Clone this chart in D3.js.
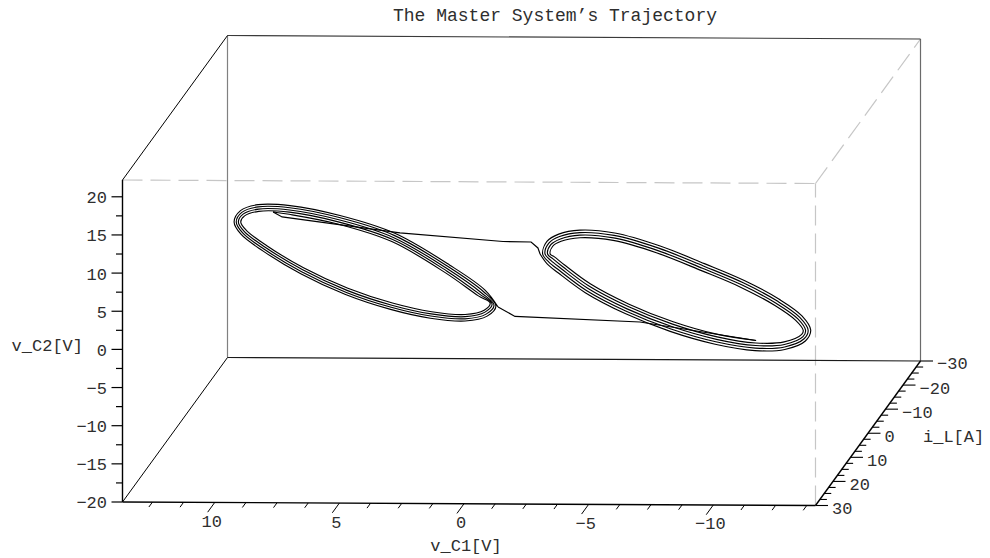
<!DOCTYPE html>
<html>
<head>
<meta charset="utf-8">
<script src="https://cdn.jsdelivr.net/npm/d3@7"></script>
<style>
  html, body { margin: 0; padding: 0; background: #fff; }
  svg { display: block; }
  text { font-family: "Liberation Mono", "Courier New", monospace; fill: #2e2e2e; }
</style>
</head>
<body>
<svg id="chart" width="990" height="558"></svg>
<script>
// ---- chart text ----
const chartTitle = "The Master System\u2019s Trajectory";
const labelVC1 = "v_C1[V]";
const labelIL = "i_L[A]";
const labelVC2 = "v_C2[V]";

// ---- axis extents and ticks ----
const vC1Domain = [13.7, -14.1];
const iLDomain = [30, -30];
const vC2Domain = [-20, 22.2];
const vC1Ticks = [10, 5, 0, -5, -10];
const iLTicks = [-30, -20, -10, 0, 10, 20, 30];
const vC2Ticks = [-20, -15, -10, -5, 0, 5, 10, 15, 20];
const vC1MinorStep = 1.25;
const iLMinorStep = 2.5;
const vC2MinorStep = 2.5;

// ---- trajectory, as [v_C1, i_L, v_C2] samples ----
// spiral around the positive equilibrium
const leftScroll = [
  [11.36,-22.72,1.41],[10.61,-21.22,1.59],[8.35,-16.70,1.79],[5.82,-11.64,1.12],[3.31,-6.62,-1.36],
  [1.78,-3.56,-3.38],[1.23,-2.46,-3.96],[1.51,-3.02,-5.08],[2.40,-4.80,-6.22],[3.96,-7.92,-6.87],
  [5.79,-11.58,-6.92],[7.87,-15.74,-6.33],[9.94,-19.88,-4.99],[11.67,-23.34,-3.18],[12.61,-25.22,-1.80],
  [12.87,-25.74,-0.88],[12.69,-25.38,0.03],[12.03,-24.06,1.06],[10.60,-21.20,1.88],[8.32,-16.64,2.08],
  [5.78,-11.56,1.41],[3.26,-6.52,-1.07],[1.71,-3.42,-3.14],[1.14,-2.28,-4.03],[1.47,-2.94,-5.31],
  [2.40,-4.80,-6.51],[3.98,-7.96,-7.17],[5.82,-11.64,-7.22],[7.91,-15.82,-6.63],[9.98,-19.96,-5.27],
  [11.73,-23.46,-3.45],[12.70,-25.40,-2.03],[12.98,-25.96,-0.94],[12.76,-25.52,0.22],[12.04,-24.08,1.35],
  [10.59,-21.18,2.17],[8.29,-16.58,2.38],[5.75,-11.50,1.71],[3.21,-6.42,-0.79],[1.63,-3.26,-2.90],
  [1.05,-2.10,-4.10],[1.42,-2.84,-5.54],[2.40,-4.80,-6.79],[4.00,-8.00,-7.46],[5.85,-11.70,-7.51],
  [7.94,-15.88,-6.92],[10.03,-20.06,-5.56],[11.79,-23.58,-3.73],[12.78,-25.56,-2.26],[13.08,-26.16,-1.01],
  [12.82,-25.64,0.41],[12.05,-24.10,1.63],[10.58,-21.16,2.47],[8.27,-16.54,2.68],[5.71,-11.42,2.00],
  [3.16,-6.32,-0.50],[1.55,-3.10,-2.66],[0.96,-1.92,-4.17],[1.37,-2.74,-5.77],[2.40,-4.80,-7.08],
  [4.02,-8.04,-7.76],[5.88,-11.76,-7.81],[7.98,-15.96,-7.22],[10.07,-20.14,-5.85],[11.84,-23.68,-4.00],
  [12.86,-25.72,-2.48],[13.18,-26.36,-1.08],[12.88,-25.76,0.60],[12.06,-24.12,1.91],[10.57,-21.14,2.76],
  [8.24,-16.48,2.97],[5.68,-11.36,2.30],[3.11,-6.22,-0.22],[1.47,-2.94,-2.42],[0.86,-1.72,-4.24]
];
// jump across to the negative scroll
const crossingOut = [
  [0.86,-1.72,-4.24],[0.07,-0.14,-4.97],[-5.76,11.52,-1.92],[-11.18,22.36,-0.83]
];
// spiral around the negative equilibrium
const rightScroll = [
  [-11.18,22.36,-0.83],[-9.39,18.78,-1.20],[-7.31,14.62,-0.89],[-5.25,10.50,0.08],[-3.44,6.88,1.58],
  [-2.23,4.46,3.29],[-1.77,3.54,4.03],[-1.57,3.14,4.28],[-1.69,3.38,5.37],[-2.08,4.16,6.27],
  [-2.96,5.92,7.31],[-4.51,9.02,7.96],[-6.56,13.12,7.64],[-8.63,17.26,6.67],[-10.48,20.96,5.67],
  [-12.06,24.12,4.32],[-13.03,26.06,3.00],[-13.38,26.76,1.91],[-13.31,26.62,1.34],[-12.49,24.98,-0.17],
  [-11.17,22.34,-1.17],[-9.36,18.72,-1.54],[-7.28,14.56,-1.22],[-5.21,10.42,-0.25],[-3.38,6.76,1.25],
  [-2.16,4.32,2.98],[-1.69,3.38,3.74],[-1.45,2.90,4.20],[-1.60,3.20,5.52],[-2.05,4.10,6.56],
  [-2.96,5.92,7.65],[-4.53,9.06,8.30],[-6.60,13.20,7.98],[-8.68,17.36,7.01],[-10.53,21.06,6.01],
  [-12.13,24.26,4.63],[-13.13,26.26,3.26],[-13.49,26.98,2.00],[-13.37,26.74,1.09],[-12.50,25.00,-0.50],
  [-11.16,22.32,-1.51],[-9.33,18.66,-1.88],[-7.24,14.48,-1.56],[-5.16,10.32,-0.59],[-3.32,6.64,0.92],
  [-2.09,4.18,2.68],[-1.60,3.20,3.46],[-1.33,2.66,4.13],[-1.51,3.02,5.67],[-2.01,4.02,6.85],
  [-2.96,5.92,7.98],[-4.55,9.10,8.64],[-6.63,13.26,8.32],[-8.72,17.44,7.34],[-10.58,21.16,6.34],
  [-12.19,24.38,4.95],[-13.22,26.44,3.52],[-13.61,27.22,2.09],[-13.42,26.84,0.84],[-12.51,25.02,-0.82],
  [-11.15,22.30,-1.85],[-9.30,18.60,-2.22],[-7.21,14.42,-1.90],[-5.12,10.24,-0.92],[-3.26,6.52,0.60],
  [-2.02,4.04,2.37],[-1.51,3.02,3.17],[-1.22,2.44,4.05],[-1.42,2.84,5.82],[-1.97,3.94,7.14],
  [-2.96,5.92,8.31],[-4.58,9.16,8.98],[-6.67,13.34,8.66],[-8.77,17.54,7.68],[-10.63,21.26,6.67],
  [-12.26,24.52,5.27],[-13.32,26.64,3.78],[-13.73,27.46,2.18],[-13.48,26.96,0.59],[-12.52,25.04,-1.14],
  [-11.13,22.26,-2.19],[-9.27,18.54,-2.56],[-7.17,14.34,-2.24],[-5.07,10.14,-1.26],[-3.21,6.42,0.27],
  [-1.94,3.88,2.06],[-1.43,2.86,2.89],[-1.10,2.20,3.97]
];
// jump back to the positive scroll
const crossingBack = [
  [-1.10,2.20,3.97],[-1.00,2.00,4.70],[-0.68,1.36,5.27],[0.63,-1.26,4.49],[5.44,-10.88,2.50],
  [10.94,-21.88,1.03],[11.36,-22.72,1.41]
];

// ---- projection of the box ----
const W = 990, H = 558;
const svg = d3.select("#chart");
const origin = [122.5, 502];        // front-bottom-left corner
const edgeX = [693, 3.5];           // along v_C1
const edgeY = [105, -144.5];        // along i_L (front -> back)
const edgeZ = [0, -322];            // along v_C2

const sx = d3.scaleLinear().domain(vC1Domain).range([0, 1]);
const sy = d3.scaleLinear().domain(iLDomain).range([0, 1]);
const sz = d3.scaleLinear().domain(vC2Domain).range([0, 1]);

function proj(u, w, h) {
  return [origin[0] + u * edgeX[0] + w * edgeY[0] + h * edgeZ[0],
          origin[1] + u * edgeX[1] + w * edgeY[1] + h * edgeZ[1]];
}
const P = d => proj(sx(d[0]), sy(d[1]), sz(d[2]));

svg.append("rect").attr("width", W).attr("height", H).attr("fill", "#fff");

// ---- box edges ----
const gBox = svg.append("g");
function edge(a, b, stroke, width, dash) {
  const p = proj(...a), q = proj(...b);
  gBox.append("line")
    .attr("x1", p[0]).attr("y1", p[1]).attr("x2", q[0]).attr("y2", q[1])
    .attr("stroke", stroke).attr("stroke-width", width)
    .attr("stroke-dasharray", dash || null);
}
const dashed = "20,8";
edge([0,0,1],[1,0,1], "#c6c6c6", 1.2, dashed);
edge([1,0,0],[1,0,1], "#c6c6c6", 1.2, dashed);
edge([1,0,1],[1,1,1], "#c6c6c6", 1.2, dashed);
edge([0,1,0],[0,1,1], "#808080", 1.2);
edge([1,1,0],[1,1,1], "#6a6a6a", 1.2);
edge([0,1,1],[1,1,1], "#3a3a3a", 1.1);
edge([0,1,0],[1,1,0], "#1a1a1a", 1.2);
edge([0,0,0],[0,1,0], "#000", 1);
edge([0,0,1],[0,1,1], "#000", 1);

// ---- trajectory ----
const gTraj = svg.append("g").attr("fill", "none").attr("stroke", "#000").attr("stroke-width", 1.15);
const smooth = d3.line().x(d => P(d)[0]).y(d => P(d)[1]).curve(d3.curveCatmullRom.alpha(0.5));
const straight = d3.line().x(d => P(d)[0]).y(d => P(d)[1]);
gTraj.append("path").attr("d", smooth(leftScroll));
gTraj.append("path").attr("d", straight(crossingOut));
gTraj.append("path").attr("d", smooth(rightScroll));
gTraj.append("path").attr("d", straight(crossingBack));

// ---- axes ----
const gAx = svg.append("g");
function seg(p, dx, dy, width) {
  gAx.append("line")
    .attr("x1", p[0]).attr("y1", p[1]).attr("x2", p[0] + dx).attr("y2", p[1] + dy)
    .attr("stroke", "#000").attr("stroke-width", width);
}
function minorValues(domain, step) {
  const lo = Math.min(...domain), hi = Math.max(...domain);
  return d3.range(Math.ceil(lo / step) * step, hi + 1e-9, step);
}
const fmt = t => String(t).replace("-", "\u2212");

// v_C2 (vertical, front-left)
edge([0,0,0],[0,0,1], "#000", 1.4);
minorValues(vC2Domain, vC2MinorStep).forEach(t => {
  const major = vC2Ticks.includes(t);
  seg(proj(0, 0, sz(t)), major ? -11 : -6.5, 0, 1.2);
});
vC2Ticks.forEach(t => {
  const p = proj(0, 0, sz(t));
  gAx.append("text").attr("x", p[0] - 15.5).attr("y", p[1] + 2)
    .attr("text-anchor", "end").attr("dominant-baseline", "middle")
    .attr("font-size", 17).text(fmt(t));
});
{
  const p = proj(0, 0, 0.5);
  gAx.append("text").attr("x", p[0] - 39.5).attr("y", p[1] + 6)
    .attr("text-anchor", "end").attr("dominant-baseline", "middle")
    .attr("font-size", 17).text(labelVC2);
}

// v_C1 (front-bottom)
edge([0,0,0],[1,0,0], "#000", 1.4);
const tickDir = [-edgeY[0] / Math.hypot(...edgeY), -edgeY[1] / Math.hypot(...edgeY)];
minorValues(vC1Domain, vC1MinorStep).forEach(t => {
  const major = vC1Ticks.includes(t);
  const len = major ? 12 : 6;
  seg(proj(sx(t), 0, 0), tickDir[0] * len, tickDir[1] * len, 1);
});
vC1Ticks.forEach(t => {
  const p = proj(sx(t), 0, 0);
  gAx.append("text").attr("x", p[0] - 3).attr("y", p[1] + 20)
    .attr("text-anchor", "middle").attr("dominant-baseline", "middle")
    .attr("font-size", 17).text(fmt(t));
});
{
  const p = proj(0.5, 0, 0);
  gAx.append("text").attr("x", p[0] - 3).attr("y", p[1] + 43)
    .attr("text-anchor", "middle").attr("dominant-baseline", "middle")
    .attr("font-size", 17).text(labelVC1);
}

// i_L (bottom-right, depth)
edge([1,0,0],[1,1,0], "#000", 1.4);
minorValues(iLDomain, iLMinorStep).forEach(t => {
  const major = iLTicks.includes(t);
  seg(proj(1, sy(t), 0), major ? 12.5 : 7, 0, 1.1);
});
iLTicks.forEach(t => {
  const p = proj(1, sy(t), 0);
  gAx.append("text").attr("x", p[0] + 16.5).attr("y", p[1] + 4)
    .attr("text-anchor", "start").attr("dominant-baseline", "middle")
    .attr("font-size", 17).text(fmt(t));
});
{
  const p = proj(1, 0.5, 0);
  gAx.append("text").attr("x", p[0] + 55).attr("y", p[1] + 4)
    .attr("text-anchor", "start").attr("dominant-baseline", "middle")
    .attr("font-size", 17).text(labelIL);
}

// ---- title ----
svg.append("text").attr("x", 555).attr("y", 21)
  .attr("text-anchor", "middle").attr("font-size", 18).text(chartTitle);
</script>
</body>
</html>
